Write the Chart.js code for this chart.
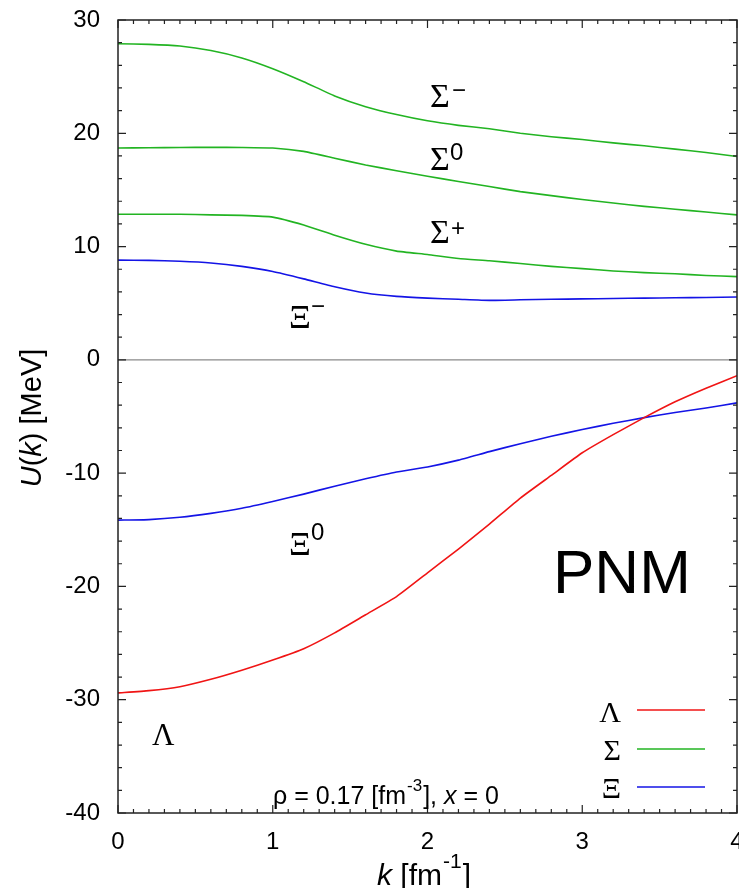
<!DOCTYPE html>
<html>
<head>
<meta charset="utf-8">
<script src="https://cdn.jsdelivr.net/npm/chart.js@4/dist/chart.umd.min.js"></script>
<style>
    html, body { margin: 0; padding: 0; background: #fff; }
    #contenedor { width: 739px; height: 888px; }
</style>
</head>
<body>
<div id="contenedor"><canvas id="grafico" width="739" height="888"></canvas></div>
<script>
// Datos: U(k) [MeV] frente a k [fm^-1]
const kValores = [0, 0.2, 0.4, 0.6, 0.8, 1.0, 1.2, 1.4, 1.6, 1.8, 2.0, 2.2, 2.4, 2.6, 2.8, 3.0, 3.2, 3.4, 3.6, 3.8, 4.0];
const uLambda = [-29.4, -29.2, -28.85, -28.2, -27.4, -26.5, -25.5, -24.1, -22.5, -20.9, -18.8, -16.7, -14.5, -12.2, -10.2, -8.2, -6.6, -5.1, -3.7, -2.5, -1.4];
const uSigmaMenos = [27.9, 27.85, 27.7, 27.3, 26.65, 25.7, 24.55, 23.3, 22.35, 21.65, 21.1, 20.7, 20.4, 20.0, 19.7, 19.45, 19.15, 18.9, 18.6, 18.3, 17.95];
const uSigmaCero = [18.7, 18.72, 18.75, 18.76, 18.75, 18.7, 18.4, 17.8, 17.2, 16.7, 16.2, 15.75, 15.3, 14.85, 14.5, 14.15, 13.85, 13.55, 13.3, 13.05, 12.8];
const uSigmaMas = [12.85, 12.85, 12.85, 12.8, 12.75, 12.6, 11.9, 11.0, 10.2, 9.6, 9.3, 8.95, 8.75, 8.5, 8.25, 8.05, 7.85, 7.7, 7.6, 7.45, 7.35];
const uXiMenos = [8.8, 8.78, 8.7, 8.55, 8.25, 7.8, 7.15, 6.45, 5.9, 5.6, 5.45, 5.35, 5.25, 5.3, 5.35, 5.38, 5.42, 5.45, 5.48, 5.5, 5.55];
const uXiCero = [-14.15, -14.1, -13.9, -13.55, -13.1, -12.5, -11.85, -11.15, -10.5, -9.9, -9.45, -8.85, -8.1, -7.4, -6.75, -6.15, -5.6, -5.1, -4.65, -4.25, -3.8];

// Ticks de los ejes
const ticksX = [0, 1, 2, 3, 4];
const ticksY = [30, 20, 10, 0, -10, -20, -30, -40];
const ticksYMenores = [28, 26, 24, 22, 18, 16, 14, 12, 8, 6, 4, 2, -2, -4, -6, -8, -12, -14, -16, -18, -22, -24, -26, -28, -32, -34, -36, -38];
const ticksXMenores = [];
for (let i = 0; i <= 40; i++) ticksXMenores.push(i / 10);

const ROJO = '#f01414';
const VERDE = '#22b422';
const AZUL = '#1414e6';

function puntos(valores) {
    return kValores.map((k, i) => ({ x: k, y: valores[i] }));
}

function serie(valores, color) {
    return {
        data: puntos(valores),
        borderColor: color,
        borderWidth: 1.6,
        pointRadius: 0,
        tension: 0.15,
        fill: false
    };
}

const ejesPlugin = {
    id: 'ejes',
    beforeDatasetsDraw(chart) {
        const ctx = chart.ctx;
        const { left, right } = chart.chartArea;
        const y0 = chart.scales.y.getPixelForValue(0);
        ctx.save();
        ctx.strokeStyle = '#8a8a8a';
        ctx.lineWidth = 1.2;
        ctx.beginPath();
        ctx.moveTo(left, y0);
        ctx.lineTo(right, y0);
        ctx.stroke();
        ctx.restore();
    },
    afterDraw(chart) {
        const ctx = chart.ctx;
        const sx = chart.scales.x;
        const sy = chart.scales.y;
        const { left, right, top, bottom } = chart.chartArea;
        ctx.save();

        // marco
        ctx.strokeStyle = '#222';
        ctx.lineWidth = 1.5;
        ctx.strokeRect(left, top, right - left, bottom - top);

        // ticks hacia dentro
        ctx.lineWidth = 1.2;
        ctx.beginPath();
        ticksXMenores.forEach(v => {
            const px = sx.getPixelForValue(v);
            const largo = ticksX.includes(v) ? 8 : 4;
            ctx.moveTo(px, bottom); ctx.lineTo(px, bottom - largo);
            ctx.moveTo(px, top); ctx.lineTo(px, top + largo);
        });
        ticksYMenores.concat(ticksY).forEach(v => {
            const py = sy.getPixelForValue(v);
            const largo = ticksY.includes(v) ? 8 : 4;
            ctx.moveTo(left, py); ctx.lineTo(left + largo, py);
            ctx.moveTo(right, py); ctx.lineTo(right - largo, py);
        });
        ctx.stroke();

        // etiquetas de ticks
        ctx.fillStyle = '#000';
        ctx.font = '24px "Liberation Sans", Arial, sans-serif';
        ctx.textAlign = 'right';
        ctx.textBaseline = 'middle';
        ticksY.forEach(v => ctx.fillText(String(v), 100, sy.getPixelForValue(v)));
        ctx.textAlign = 'center';
        ctx.textBaseline = 'alphabetic';
        ticksX.forEach(v => ctx.fillText(String(v), sx.getPixelForValue(v), 849));

        // titulo eje x: k [fm^-1]
        ctx.textAlign = 'left';
        const fX = '30px "Liberation Sans", Arial, sans-serif';
        const fXi = 'italic 30px "Liberation Sans", Arial, sans-serif';
        const fXs = '21px "Liberation Sans", Arial, sans-serif';
        let x = 377;
        ctx.font = fXi; ctx.fillText('k', x, 885); x += ctx.measureText('k ').width;
        ctx.font = fX; ctx.fillText('[fm', x, 885); x += ctx.measureText('[fm').width;
        ctx.font = fXs; ctx.fillText('-1', x + 1, 868); x += ctx.measureText('-1').width + 2;
        ctx.font = fX; ctx.fillText(']', x, 885);

        // titulo eje y: U(k) [MeV]
        ctx.save();
        ctx.translate(41, 418);
        ctx.rotate(-Math.PI / 2);
        const partes = [['U', true], ['(', false], ['k', true], [') [MeV]', false]];
        let ancho = 0;
        partes.forEach(p => {
            ctx.font = (p[1] ? 'italic ' : '') + '29px "Liberation Sans", Arial, sans-serif';
            ancho += ctx.measureText(p[0]).width;
        });
        let xp = -ancho / 2;
        partes.forEach(p => {
            ctx.font = (p[1] ? 'italic ' : '') + '29px "Liberation Sans", Arial, sans-serif';
            ctx.fillText(p[0], xp, 0);
            xp += ctx.measureText(p[0]).width;
        });
        ctx.restore();

        // PNM
        ctx.font = '62px "Liberation Sans", Arial, sans-serif';
        ctx.fillText('PNM', 553, 593);

        // rho = 0.17 [fm^-3], x = 0
        const fR = '25px "Liberation Sans", Arial, sans-serif';
        const fRi = 'italic 25px "Liberation Sans", Arial, sans-serif';
        const fRs = '17px "Liberation Sans", Arial, sans-serif';
        x = 273;
        ctx.font = fR; ctx.fillText('\u03c1 = 0.17 [fm', x, 804); x += ctx.measureText('\u03c1 = 0.17 [fm').width;
        ctx.font = fRs; ctx.fillText('-3', x + 1, 791); x += ctx.measureText('-3').width + 2;
        ctx.font = fR; ctx.fillText('], ', x, 804); x += ctx.measureText('], ').width;
        ctx.font = fRi; ctx.fillText('x', x, 804); x += ctx.measureText('x').width;
        ctx.font = fR; ctx.fillText(' = 0', x, 804);

        // etiquetas de curvas
        const serif = '"Liberation Serif", "Times New Roman", serif';
        const sans = '"Liberation Sans", Arial, sans-serif';
        ctx.font = '34px ' + serif;
        ctx.fillText('\u03a3', 430, 107);
        ctx.fillText('\u03a3', 430, 170);
        ctx.fillText('\u03a3', 430, 243);
        ctx.fillText('\u039e', 289, 328);
        ctx.fillText('\u039e', 289, 555);
        ctx.font = '31px ' + serif;
        ctx.fillText('\u039b', 152, 745);
        ctx.font = '24px ' + sans;
        ctx.fillText('\u2212', 452, 98);
        ctx.fillText('0', 450, 160);
        ctx.fillText('+', 451, 236);
        ctx.fillText('\u2212', 311, 314);
        ctx.fillText('0', 311, 540);

        // leyenda
        const leyenda = [['\u039b', ROJO, 710, 722], ['\u03a3', VERDE, 749, 760], ['\u039e', AZUL, 787, 798]];
        ctx.textAlign = 'right';
        ctx.font = '30px ' + serif;
        leyenda.forEach(([t, c, yl, yt]) => {
            ctx.fillStyle = '#000';
            ctx.fillText(t, 621, yt);
            ctx.strokeStyle = c;
            ctx.lineWidth = 1.6;
            ctx.beginPath();
            ctx.moveTo(637, yl);
            ctx.lineTo(705, yl);
            ctx.stroke();
        });
        ctx.restore();
    }
};

const ctx = document.getElementById('grafico').getContext('2d');
new Chart(ctx, {
    type: 'line',
    data: {
        datasets: [
            serie(uLambda, ROJO),
            serie(uSigmaMenos, VERDE),
            serie(uSigmaCero, VERDE),
            serie(uSigmaMas, VERDE),
            serie(uXiMenos, AZUL),
            serie(uXiCero, AZUL)
        ]
    },
    options: {
        responsive: false,
        animation: false,
        layout: { padding: { left: 118, top: 20, right: 2, bottom: 75 } },
        scales: {
            x: { type: 'linear', min: 0, max: 4, display: false },
            y: { type: 'linear', min: -40, max: 30, display: false }
        },
        plugins: {
            legend: { display: false },
            tooltip: { enabled: false }
        }
    },
    plugins: [ejesPlugin]
});
</script>
</body>
</html>
